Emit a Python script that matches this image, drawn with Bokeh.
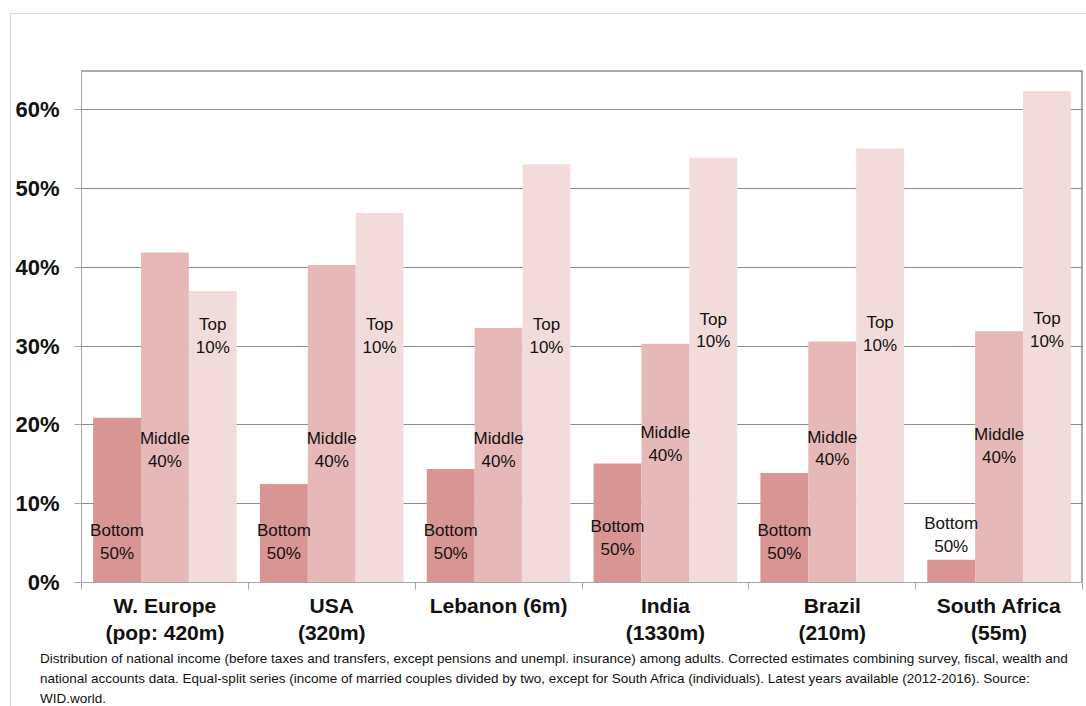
from bokeh.plotting import figure
from bokeh.models import (ColumnDataSource, Range1d, FixedTicker, NumeralTickFormatter,
                          LinearAxis, Span, Div)
from bokeh.layouts import column
from bokeh.embed import file_html
from bokeh.resources import INLINE
from bokeh.core.properties import value

# Pre-tax national income shares (%) by group
regions = ["W. Europe\n(pop: 420m)", "USA\n(320m)", "Lebanon (6m)",
           "India\n(1330m)", "Brazil\n(210m)", "South Africa\n(55m)"]
bottom50 = [20.9, 12.5, 14.4, 15.1, 13.9, 2.9]
middle40 = [41.9, 40.3, 32.3, 30.3, 30.6, 31.9]
top10 = [37.0, 46.9, 53.1, 53.9, 55.1, 62.4]

group_names = ["Bottom\n50%", "Middle\n40%", "Top\n10%"]
y_ticks = [0.0, 0.1, 0.2, 0.3, 0.4, 0.5, 0.6]

# label centres (share of income axis) for each tier, per region
label_y = [
    [0.051, 0.051, 0.051, 0.0565, 0.051, 0.060],
    [0.168, 0.168, 0.168, 0.176, 0.170, 0.173],
    [0.313, 0.313, 0.313, 0.320, 0.315, 0.321],
]

colors = ["#d99594", "#e6b8b7", "#f2dcdb"]
bar_w = 0.287
offsets = [-bar_w, 0.0, bar_w]

n = len(regions)
p = figure(frame_width=1001, frame_height=512,
           x_range=Range1d(0, n), y_range=Range1d(0, 0.65),
           output_backend="svg", toolbar_location=None,
           min_border_left=70, min_border_top=56, min_border_right=4,
           min_border_bottom=60, x_axis_location=None, y_axis_location=None)
p.outline_line_color = None
p.background_fill_color = "white"
p.border_fill_color = "white"

series = [bottom50, middle40, top10]
sources = []
for k, vals in enumerate(series):
    src = ColumnDataSource(dict(
        x=[i + 0.5 + offsets[k] for i in range(n)],
        top=[v / 100.0 for v in vals],
        ly=label_y[k],
        txt=[group_names[k]] * n,
    ))
    sources.append(src)
    p.vbar(x="x", top="top", bottom=0, width=bar_w, source=src,
           fill_color=colors[k], line_color=None)

# tier labels drawn after all bars so none is hidden
for src in sources:
    p.text(x="x", y="ly", text="txt", source=src,
           text_align="center", text_baseline="middle",
           text_font=value("Liberation Sans"), text_font_size="17px",
           text_line_height=1.2, text_color="#111111")

# y axis
yax = LinearAxis(ticker=FixedTicker(ticks=y_ticks),
                 formatter=NumeralTickFormatter(format="0%"))
yax.axis_line_color = "#a6a6a6"
yax.major_tick_line_color = "#a6a6a6"
yax.major_tick_out = 7
yax.major_tick_in = 0
yax.minor_tick_line_color = None
yax.major_label_standoff = 15
yax.major_label_text_font = "Liberation Sans"
yax.major_label_text_font_style = "bold"
yax.major_label_text_font_size = "22px"
yax.major_label_text_color = "#111111"
p.add_layout(yax, "left")

# x axis: labels at group centres, tick marks at group boundaries
centres = [i + 0.5 for i in range(n)]
xax = LinearAxis(ticker=FixedTicker(ticks=centres, minor_ticks=list(range(n + 1))))
xax.major_label_overrides = {c: r for c, r in zip(centres, regions)}
xax.axis_line_color = "#a6a6a6"
xax.major_tick_line_color = None
xax.major_tick_out = 0
xax.major_tick_in = 0
xax.minor_tick_line_color = "#a6a6a6"
xax.minor_tick_out = 7
xax.minor_tick_in = 0
xax.major_label_standoff = 4
xax.major_label_text_font = "Liberation Sans"
xax.major_label_text_font_style = "bold"
xax.major_label_text_font_size = "21px"
xax.major_label_text_color = "#111111"
xax.major_label_text_line_height = 1.2
p.add_layout(xax, "below")

p.xgrid.visible = False
p.ygrid.ticker = FixedTicker(ticks=y_ticks)
p.ygrid.grid_line_color = "#8c8c8c"
p.ygrid.grid_line_width = 1

# dark frame edges on top and right
p.add_layout(Span(location=0.65, dimension="width", line_color="#555555", line_width=2))
p.add_layout(Span(location=n, dimension="height", line_color="#555555", line_width=2))

note = Div(
    text=("Distribution of national income (before taxes and transfers, except pensions and "
          "unempl. insurance) among adults. Corrected estimates combining survey, fiscal, wealth and<br>"
          "national accounts data. Equal-split series (income of married couples divided by two, "
          "except for South Africa (individuals). Latest years available (2012-2016). Source:<br>"
          "WID.world."),
    width=1060, height=60,
    styles={"font-family": "'Liberation Sans', Arial, sans-serif", "font-size": "13.5px",
            "line-height": "20px", "color": "#111111", "position": "relative",
            "top": "-3px", "margin-left": "29px", "white-space": "nowrap"},
)

layout = column(p, note, margin=(13, 0, 0, 10),
                styles={"border-top": "1px solid #d9d9d9", "border-left": "1px solid #d9d9d9",
                        "gap": "0px", "background": "white"})

open("out.html", "w").write(file_html(layout, INLINE))
